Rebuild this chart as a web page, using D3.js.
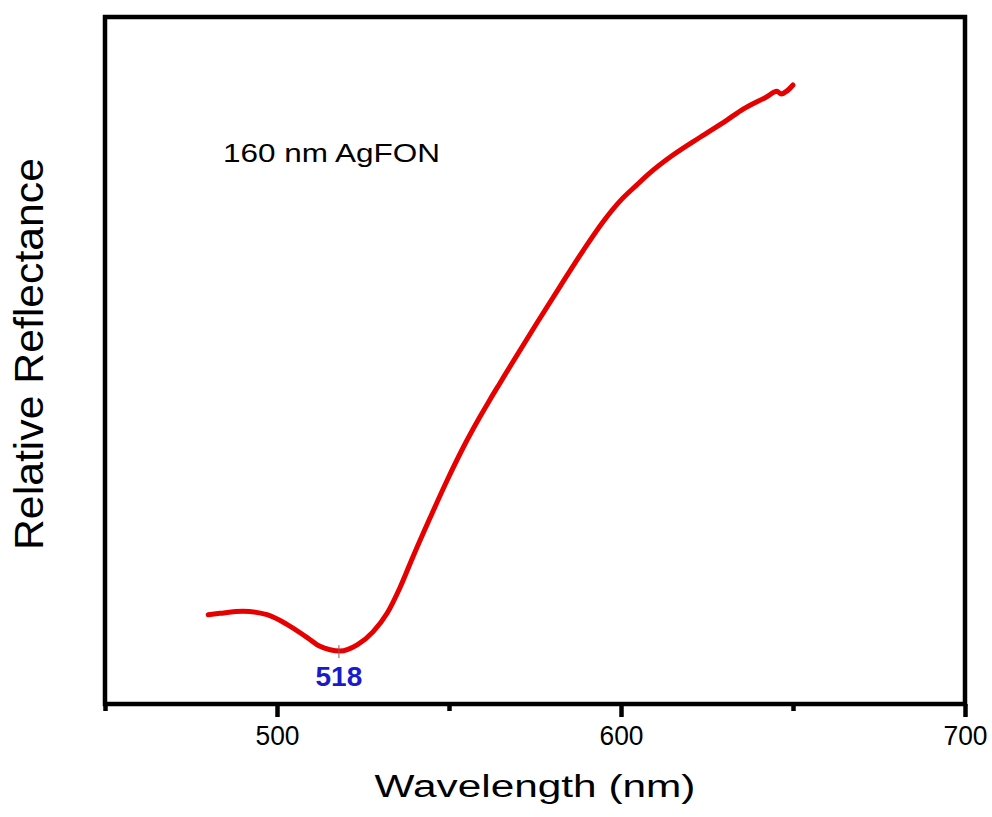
<!DOCTYPE html>
<meta charset="utf-8">
<style>
body { margin: 0; background: #fff; }
text { font-family: "Liberation Sans", Arial, sans-serif; }
.frame { fill: none; stroke: #000; stroke-width: 4.5px; }
.axis line { stroke: #000; stroke-width: 4.5px; }
.axis path { display: none; }
</style>
<body>
  <svg></svg>
</body>
<script src="https://cdn.jsdelivr.net/npm/d3@7"></script>
<script>

// spectrum (relative units)
var wavelength = [480, 483.4, 490.1, 497.1, 502.9, 508.7, 512.5, 515.4, 518.3, 523.3,
                  527.9, 532.0, 535.8, 539.5, 544.5, 549.4, 554.1, 559.0, 561.9, 564.8,
                  567.7, 575.6, 582.3, 589.0, 594.8, 599.7, 604.7, 608.4, 615.1, 623.0,
                  630.8, 635.5, 642.4, 645.3, 646.5, 650.0];
var reflectance = [13.0, 13.2, 13.5, 13.0, 11.6, 9.7, 8.4, 7.9, 7.7, 8.6,
                   10.5, 13.2, 17.0, 21.4, 27.1, 32.5, 37.3, 41.8, 44.3, 46.7,
                   49.1, 55.5, 60.8, 66.0, 70.2, 73.2, 75.6, 77.3, 79.9, 82.5,
                   85.0, 86.6, 88.4, 89.2, 88.8, 90.1];
var majorTicks = [500, 600, 700];
var minorTicks = [450, 550, 650];
var peakWavelength = 518;
var sampleLabel = "160 nm AgFON";

var svg = d3.select("svg").attr("width", 992).attr("height", 817);

var plotLeft = 105, plotRight = 965, plotTop = 17, plotBottom = 704;

var x = d3.scaleLinear().domain([450, 700]).range([plotLeft, plotRight]);
var y = d3.scaleLinear().domain([0, 100]).range([plotBottom, plotTop]);

var data = wavelength.map(function(w, i) { return {w: w, r: reflectance[i]}; });

// minor ticks
svg.append("g")
    .attr("class", "axis")
    .attr("transform", "translate(0," + plotBottom + ")")
    .call(d3.axisBottom(x).tickValues(minorTicks).tickSize(7).tickFormat(""));

// major ticks + labels
var gx = svg.append("g")
    .attr("class", "axis")
    .attr("transform", "translate(0," + plotBottom + ")")
    .call(d3.axisBottom(x).tickValues(majorTicks).tickSize(13).tickFormat(d3.format("d")));

gx.selectAll("text")
    .attr("y", 41)
    .attr("dy", 0)
    .attr("fill", "#000")
    .style("font-size", "27px")
    .attr("textLength", 44)
    .attr("lengthAdjust", "spacingAndGlyphs");

svg.append("rect")
    .attr("class", "frame")
    .attr("x", plotLeft)
    .attr("y", plotTop)
    .attr("width", plotRight - plotLeft)
    .attr("height", plotBottom - plotTop);

var line = d3.line()
    .x(function(d) { return x(d.w); })
    .y(function(d) { return y(d.r); })
    .curve(d3.curveMonotoneX);

svg.append("path")
    .datum(data)
    .attr("d", line)
    .attr("fill", "none")
    .attr("stroke", "#e60000")
    .attr("stroke-width", 5)
    .attr("stroke-linejoin", "round")
    .attr("stroke-linecap", "round");

// minimum marker
var minPt = data.reduce(function(a, b) { return b.r < a.r ? b : a; });
svg.append("line")
    .attr("x1", x(peakWavelength)).attr("x2", x(peakWavelength))
    .attr("y1", y(minPt.r) - 6).attr("y2", y(minPt.r) + 7)
    .attr("stroke", "#a05050")
    .attr("stroke-width", 1);

svg.append("text")
    .attr("x", x(peakWavelength))
    .attr("y", 686)
    .attr("text-anchor", "middle")
    .attr("fill", "#1a1acd")
    .style("font-size", "28px")
    .style("font-weight", "bold")
    .text(peakWavelength);

svg.append("text")
    .attr("x", 223)
    .attr("y", 162)
    .style("font-size", "26px")
    .attr("textLength", 217)
    .attr("lengthAdjust", "spacingAndGlyphs")
    .text(sampleLabel);

svg.append("text")
    .attr("x", (plotLeft + plotRight) / 2)
    .attr("y", 797)
    .attr("text-anchor", "middle")
    .style("font-size", "31px")
    .attr("textLength", 321)
    .attr("lengthAdjust", "spacingAndGlyphs")
    .text("Wavelength (nm)");

svg.append("text")
    .attr("transform", "translate(43,354) rotate(-90)")
    .attr("text-anchor", "middle")
    .style("font-size", "41px")
    .attr("textLength", 392)
    .attr("lengthAdjust", "spacingAndGlyphs")
    .text("Relative Reflectance");

</script>
